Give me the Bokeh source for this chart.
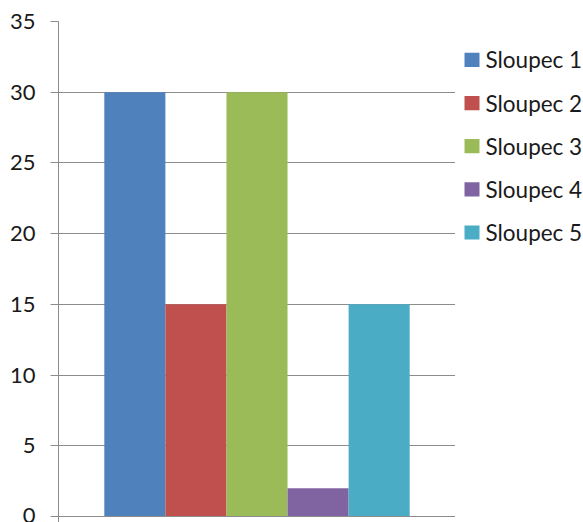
from bokeh.plotting import figure
from bokeh.layouts import row
from bokeh.models import ColumnDataSource, Range1d, FixedTicker, LinearAxis
from bokeh.core.properties import value
from bokeh.embed import file_html
from bokeh.resources import INLINE
import numpy as np

# Series names and their values
series = ["Sloupec 1", "Sloupec 2", "Sloupec 3", "Sloupec 4", "Sloupec 5"]
values = [30, 15, 30, 2, 15]
colors = ["#4F81BD", "#C0504D", "#9BBB59", "#8064A2", "#4BACC6"]
y_ticks = [0, 5, 10, 15, 20, 25, 30, 35]

FONT = "Lato"
GRID = "#8c8c8c"
TEXT = "#1a1a1a"
HEIGHT = 522

# side-by-side bars in one group, with a 0.75-bar gap on each end
gap = 0.75
xs = np.arange(len(series)) + gap + 0.5

p = figure(width=455, height=HEIGHT, output_backend="svg", toolbar_location=None,
           x_range=Range1d(0, len(series) + 2 * gap), y_range=Range1d(0, 35),
           min_border_left=58, min_border_right=0, min_border_top=21,
           min_border_bottom=4, x_axis_location=None, y_axis_location=None)
p.outline_line_color = None
p.background_fill_color = "white"
p.border_fill_color = "white"

src = ColumnDataSource(dict(x=xs, top=values, color=colors, name=series))
p.vbar(x="x", top="top", width=1.0, bottom=0, source=src,
       fill_color="color", line_color=None)

# y axis
yax = LinearAxis(ticker=FixedTicker(ticks=y_ticks))
yax.axis_line_color = GRID
yax.major_tick_line_color = GRID
yax.major_tick_out = 8
yax.major_tick_in = 0
yax.minor_tick_line_color = None
yax.major_label_text_font = FONT
yax.major_label_text_font_size = "22px"
yax.major_label_text_color = TEXT
yax.major_label_standoff = 15
p.add_layout(yax, "left")

# x axis: plain baseline with end ticks
xax = LinearAxis(ticker=FixedTicker(ticks=[0, len(series) + 2 * gap]))
xax.axis_line_color = GRID
xax.major_tick_line_color = GRID
xax.major_tick_out = 6
xax.major_tick_in = 0
xax.minor_tick_line_color = None
xax.major_label_text_font_size = "0px"
xax.major_label_text_color = None
p.add_layout(xax, "below")

p.xgrid.visible = False
p.ygrid.ticker = FixedTicker(ticks=y_ticks)
p.ygrid.grid_line_color = GRID
p.ygrid.grid_line_width = 1

# legend panel to the right, in pixel-like coordinates (y grows downward)
LEG_W = 128
leg = figure(width=LEG_W, height=HEIGHT, output_backend="svg", toolbar_location=None,
             x_range=Range1d(0, LEG_W), y_range=Range1d(HEIGHT, 0),
             min_border=0, x_axis_location=None, y_axis_location=None)
leg.outline_line_color = None
leg.grid.visible = False
leg.background_fill_color = "white"
leg.border_fill_color = "white"

row_pitch = 45.5
row_y = 40.5 + np.arange(len(series)) * row_pitch
lsrc = ColumnDataSource(dict(y=row_y, color=colors, name=series))
leg.rect(x=16.5, y="y", width=15, height=15, source=lsrc,
         fill_color="color", line_color=None)
leg.text(x=30, y="y", text="name", source=lsrc, text_font=value(FONT),
         text_font_size="22.5px", text_color=TEXT, text_baseline="middle",
         text_align="left")

layout = row(p, leg, spacing=0)
open("out.html", "w").write(file_html(layout, INLINE))
